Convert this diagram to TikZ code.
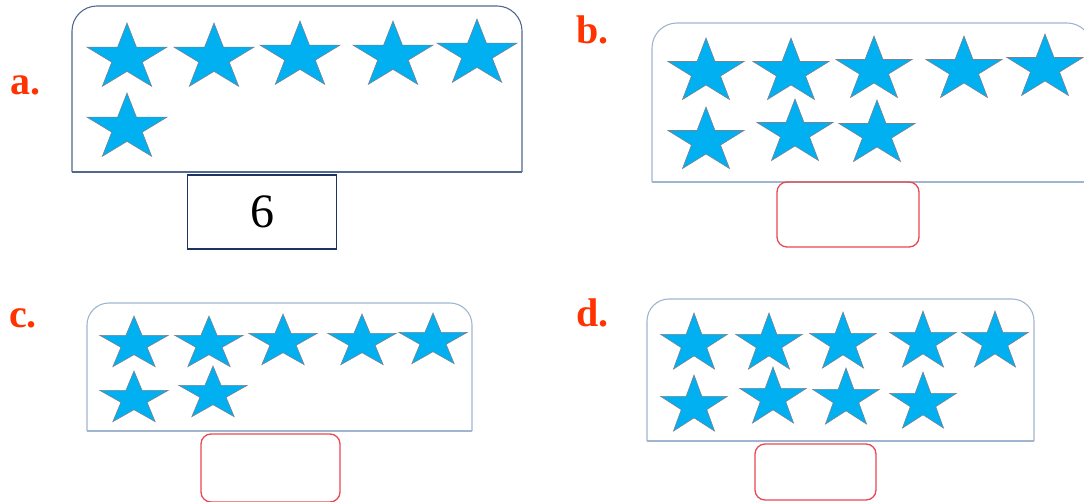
\documentclass[tikz,border=0pt]{standalone}
\usepackage{fontspec}
\setmainfont{Liberation Serif}
\definecolor{starblue}{RGB}{0,176,240}
\definecolor{staredge}{RGB}{120,130,145}
\definecolor{boxdark}{RGB}{80,105,140}
\definecolor{boxlight}{RGB}{160,182,208}
\definecolor{lblred}{RGB}{255,51,0}
\definecolor{ansred}{RGB}{232,72,82}
\definecolor{navy}{RGB}{31,50,100}
\newcommand\mystar[4]{%
  \filldraw[starshape, shift={(#1,#2)}, xscale=#3, yscale=-#4]
    (90:1) -- (126:0.382) -- (162:1) -- (198:0.382) -- (234:1) -- (270:0.382)
    -- (306:1) -- (342:0.382) -- (18:1) -- (54:0.382) -- cycle;}
\tikzset{
  starshape/.style={fill=starblue, draw=staredge, line width=0.6pt, line join=miter},
  frame/.style={line width=1.1pt},
  lbl/.style={anchor=base west, inner sep=0pt, text=lblred, font=\fontsize{40}{40}\selectfont\bfseries},
  ansbox/.style={draw=ansred, line width=1.3pt, rounded corners=10pt},
  numbox/.style={draw=navy, line width=1.5pt, font=\fontsize{48}{48}\selectfont}
}
\begin{document}
\begin{tikzpicture}[x=1pt,y=-1pt]
\useasboundingbox (0,0) rectangle (1084,502);
\clip (0,0) rectangle (1084,502);
% labels
\node[lbl] (la) at (10,95) {a.};
\node[lbl] (lb) at (576,44) {b.};
\node[lbl] (lc) at (9,328) {c.};
\node[lbl] (ld) at (576,327) {d.};
% panel a
\draw[frame, draw=boxdark, rounded corners=25pt] (72,172) -- (72,6) -- (522,6) -- (522,172);
\draw[frame, draw=boxdark] (522,172) -- (72,172);
\mystar{127}{58}{42}{35}\mystar{214}{58}{42}{35}\mystar{300}{56}{42}{35}
\mystar{393}{56}{42}{35}\mystar{477}{54}{42}{35}
\mystar{127}{128}{42}{35}
\node[numbox, minimum width=149pt, minimum height=74pt] (na) at (262,212) {6};
% panel b
\draw[frame, draw=boxlight, rounded corners=25pt] (652,182) -- (652,23) -- (1092,23) -- (1092,182);
\draw[frame, draw=boxlight] (1092,182) -- (652,182);
\mystar{706}{72}{40}{34}\mystar{791}{72}{40}{34}\mystar{874}{70}{40}{34}
\mystar{964}{70}{40}{34}\mystar{1045}{68}{40}{34}
\mystar{706}{141}{40}{34}\mystar{795}{133}{40}{34}\mystar{877}{134}{40}{34}
\node[ansbox, minimum width=142pt, minimum height=65pt] (nb) at (848,214.5) {};
% panel c
\draw[frame, draw=boxlight, rounded corners=22pt] (87,431) -- (87,303) -- (472,303) -- (472,431);
\draw[frame, draw=boxlight] (472,431) -- (87,431);
\mystar{134}{344}{36}{28}\mystar{209}{344}{36}{28}\mystar{283}{342}{36}{28}
\mystar{362}{342}{36}{28}\mystar{433}{341}{36}{28}
\mystar{134}{399}{36}{28}\mystar{213}{394}{36}{28}
\node[ansbox, minimum width=139pt, minimum height=68pt] (nc) at (270.5,468) {};
% panel d
\draw[frame, draw=boxlight, rounded corners=22pt] (647,441) -- (647,299) -- (1034,299) -- (1034,441);
\draw[frame, draw=boxlight] (1034,441) -- (647,441);
\mystar{694}{344}{35}{31}\mystar{769}{344}{35}{31}\mystar{843}{343}{35}{31}
\mystar{923}{342}{35}{31}\mystar{995}{342}{35}{31}
\mystar{694}{406}{35}{31}\mystar{773}{398}{35}{31}\mystar{846}{399}{35}{31}
\mystar{923}{403}{35}{31}
\node[ansbox, minimum width=121pt, minimum height=56pt] (nd) at (815.5,472) {};
\end{tikzpicture}
\end{document}
